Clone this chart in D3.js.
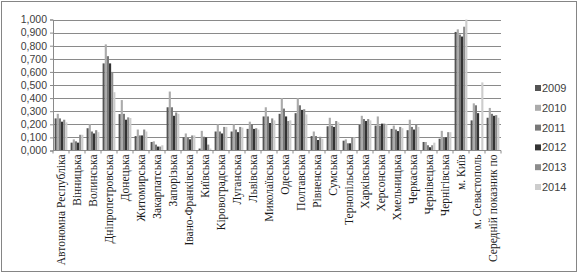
<!DOCTYPE html>
<html lang="uk">
<head>
  <meta charset="UTF-8">
  <title></title>
  <style>
    body { margin: 0; background: #fff; }
  </style>
</head>
<body>
  <script src="https://d3js.org/d3.v7.min.js"></script>
  <script>
    const [width, height] = [578, 273];
    const margin = { top: 19.5, right: 77, bottom: 122.5, left: 53 };

    const categories = [
      "Автономна Республіка", "Вінницька", "Волинська", "Дніпропетровська",
      "Донецька", "Житомирська", "Закарпатська", "Запорізька",
      "Івано-Франківська", "Київська", "Кіровоградська", "Луганська",
      "Львівська", "Миколаївська", "Одеська", "Полтавська", "Рівненська",
      "Сумська", "Тернопільська", "Харківська", "Херсонська", "Хмельницька",
      "Черкаська", "Чернівецька", "Чернігівська", "м. Київ", "м. Севастополь",
      "Середній показник по"
    ];
    const years = ["2009", "2010", "2011", "2012", "2013", "2014"];
    const colors = ["#545454", "#ababab", "#787878", "#333333", "#8c8c8c", "#cdcdcd"];

    const v2009 = [0.245, 0.06, 0.17, 0.665, 0.278, 0.11, 0.065, 0.33, 0.10, 0.015, 0.145, 0.145, 0.165, 0.26, 0.28, 0.285, 0.11, 0.185, 0.075, 0.195, 0.19, 0.165, 0.155, 0.065, 0.09, 0.905, 0.23, 0.25];
    const v2010 = [0.28, 0.085, 0.20, 0.81, 0.385, 0.16, 0.07, 0.45, 0.13, 0.15, 0.20, 0.20, 0.22, 0.33, 0.40, 0.40, 0.145, 0.25, 0.085, 0.265, 0.26, 0.19, 0.235, 0.065, 0.15, 0.925, 0.36, 0.325];
    const v2011 = [0.245, 0.07, 0.145, 0.72, 0.28, 0.115, 0.045, 0.33, 0.095, 0.105, 0.145, 0.16, 0.20, 0.26, 0.32, 0.345, 0.11, 0.19, 0.055, 0.24, 0.19, 0.16, 0.18, 0.04, 0.10, 0.885, 0.345, 0.28];
    const v2012 = [0.22, 0.06, 0.13, 0.665, 0.235, 0.115, 0.03, 0.265, 0.085, 0.10, 0.13, 0.14, 0.165, 0.21, 0.26, 0.31, 0.08, 0.18, 0.055, 0.225, 0.205, 0.148, 0.16, 0.025, 0.10, 0.87, 0.285, 0.265];
    const v2013 = [0.235, 0.12, 0.155, 0.60, 0.253, 0.16, 0.03, 0.29, 0.115, 0.045, 0.18, 0.18, 0.17, 0.245, 0.225, 0.315, 0.105, 0.225, 0.10, 0.24, 0.205, 0.18, 0.20, 0.04, 0.14, 0.945, 0, 0.27];
    const v2014 = [0.215, 0.12, 0.14, 0.445, 0.248, 0.145, 0.04, 0.28, 0.115, 0.015, 0.18, 0.175, 0.16, 0.23, 0.23, 0.275, 0.09, 0.215, 0.10, 0.23, 0.20, 0.17, 0.18, 0.06, 0.14, 1.0, 0.52, 0.25];
    const yTicks = [0, 0.1, 0.2, 0.3, 0.4, 0.5, 0.6, 0.7, 0.8, 0.9, 1.0];

    const series = [v2009, v2010, v2011, v2012, v2013, v2014];
    const data = categories.map((c, i) => ({ cat: c, values: years.map((y, j) => ({ year: y, value: series[j][i] })) }));

    const plotRight = 501;

    const x0 = d3.scaleBand()
      .domain(categories)
      .range([margin.left, plotRight])
      .paddingInner(0.2)
      .paddingOuter(0.1);

    const x1 = d3.scaleBand()
      .domain(years)
      .range([0, x0.bandwidth()]);

    const y = d3.scaleLinear()
      .domain([0, 1])
      .range([height - margin.bottom, margin.top]);

    const color = d3.scaleOrdinal().domain(years).range(colors);
    const fmt = (d) => d3.format(".3f")(d).replace(".", ",");

    const svg = d3.select(document.body)
      .append("svg")
      .attr("width", width)
      .attr("height", height)
      .attr("viewBox", [0, 0, width, height])
      .attr("font-family", "'Liberation Sans', Arial, sans-serif");

    svg.append("rect")
      .attr("x", 1.5).attr("y", 1.5)
      .attr("width", width - 3).attr("height", height - 3)
      .attr("fill", "#fff")
      .attr("stroke", "#858585");

    // gridlines
    svg.append("g")
      .selectAll("line")
      .data(yTicks.slice(1))
      .join("line")
      .attr("x1", margin.left)
      .attr("x2", plotRight)
      .attr("y1", (d) => Math.round(y(d)) + 0.5)
      .attr("y2", (d) => Math.round(y(d)) + 0.5)
      .attr("stroke", "#8a8a8a");

    // bars
    svg.append("g")
      .selectAll("g")
      .data(data)
      .join("g")
      .attr("transform", (d) => `translate(${x0(d.cat)},0)`)
      .selectAll("rect")
      .data((d) => d.values)
      .join("rect")
      .attr("x", (d) => x1(d.year))
      .attr("width", x1.bandwidth())
      .attr("y", (d) => y(d.value))
      .attr("height", (d) => y(0) - y(d.value))
      .attr("fill", (d) => color(d.year));

    // y axis
    svg.append("g")
      .attr("transform", `translate(${margin.left},0)`)
      .call(d3.axisLeft(y).tickValues(yTicks).tickFormat(fmt).tickSize(3).tickPadding(3))
      .call((g) => g.select(".domain").attr("stroke", "#8a8a8a"))
      .call((g) => g.selectAll(".tick line").attr("stroke", "#8a8a8a"))
      .call((g) => g.selectAll(".tick text")
        .attr("fill", "#404040")
        .attr("font-size", 10.5)
        .attr("font-family", "'Liberation Sans', Arial, sans-serif"));

    // x axis: line, boundary ticks, rotated labels
    const step = x0.step();
    const bounds = d3.range(categories.length + 1).map((i) => margin.left + i * step);
    const xg = svg.append("g").attr("transform", `translate(0,${y(0)})`);
    xg.append("line")
      .attr("x1", margin.left).attr("x2", plotRight)
      .attr("stroke", "#8a8a8a");
    xg.selectAll(".bt")
      .data(bounds)
      .join("line")
      .attr("class", "bt")
      .attr("x1", (d) => d).attr("x2", (d) => d)
      .attr("y1", 0).attr("y2", 3)
      .attr("stroke", "#8a8a8a");
    xg.selectAll("text")
      .data(categories)
      .join("text")
      .attr("transform", (d) => `translate(${x0(d) + x0.bandwidth() / 2 + 4},4) rotate(-90)`)
      .attr("text-anchor", "end")
      .attr("font-family", "'Liberation Serif', 'Times New Roman', serif")
      .attr("font-size", 11.5)
      .attr("fill", "#1a1a1a")
      .text((d) => d);

    // legend
    const legend = svg.append("g")
      .selectAll("g")
      .data(years)
      .join("g")
      .attr("transform", (d, i) => `translate(535,${88 + i * 19.8})`);
    legend.append("rect")
      .attr("x", 0).attr("y", -3)
      .attr("width", 6).attr("height", 6)
      .attr("fill", (d) => color(d));
    legend.append("text")
      .attr("x", 7)
      .attr("dy", "0.36em")
      .attr("font-size", 11)
      .attr("fill", "#404040")
      .text((d) => d);
  </script>
</body>
</html>
